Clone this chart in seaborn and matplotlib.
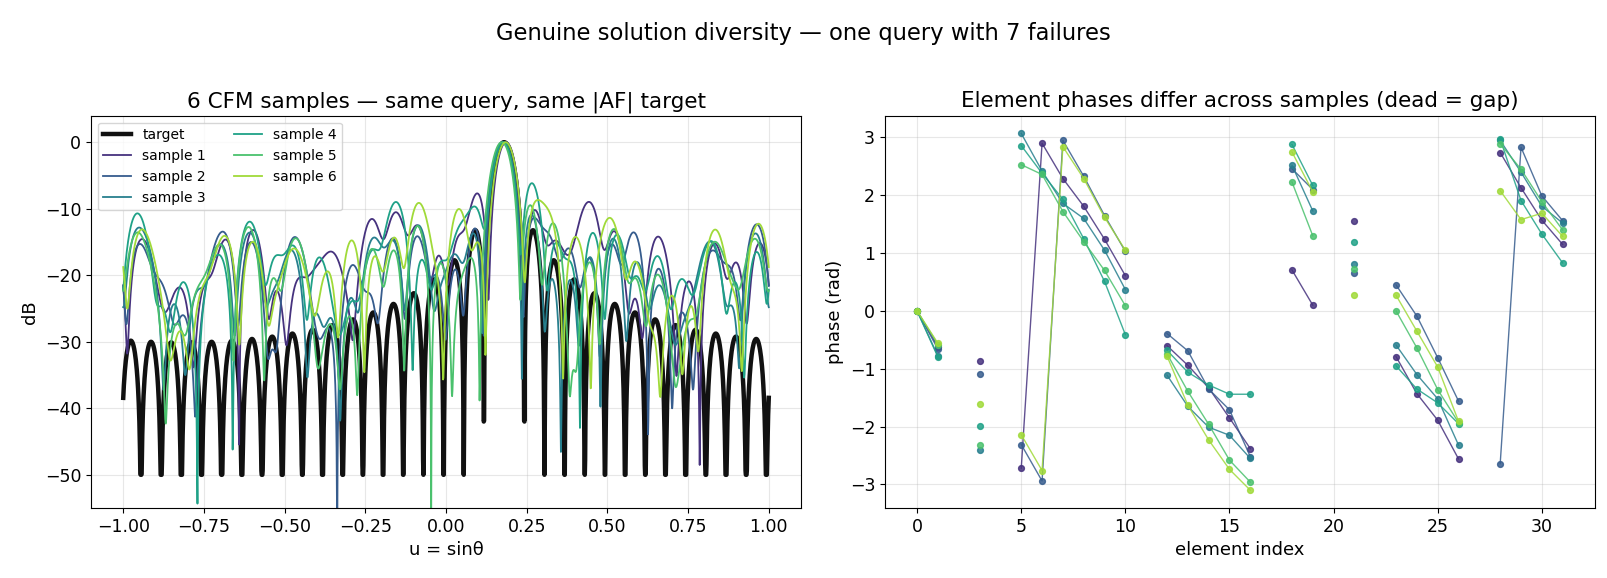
import matplotlib
matplotlib.use("Agg")
import matplotlib.pyplot as plt
import numpy as np
import seaborn as sns

nan = np.nan

# 32-element half-wavelength array, 7 dead elements, beam steered to u0
n_elem = 32
steer_u = 0.18
dead_elements = [2, 4, 11, 17, 20, 22, 27]
target_amp = [1.0] * n_elem

# element phases (rad) read per sample, nan = dead element
phase_s1 = [0.00, -0.62, nan, -0.86, nan, -2.72, 2.90, 2.29, 1.81, 1.24, 0.61, nan,
            -0.60, -0.94, -1.33, -1.85, -2.38, nan, 0.71, 0.10, nan, 1.56, nan,
            -0.79, -1.43, -1.89, -2.56, nan, 2.74, 2.13, 1.57, 1.15]
phase_s2 = [0.00, -0.66, nan, -1.09, nan, -2.31, -2.94, 2.95, 2.33, 1.65, 1.03, nan,
            -0.39, -0.69, -1.35, -1.71, -2.52, nan, 2.46, 2.10, nan, 0.65, nan,
            0.45, -0.09, -0.81, -1.56, nan, -2.64, 2.83, 1.99, 1.56]
phase_s3 = [0.00, -0.78, nan, -2.41, nan, 3.07, 2.42, 1.86, 1.60, 1.05, 0.37, nan,
            -1.11, -1.65, -2.01, -2.15, -2.55, nan, 2.52, 1.73, nan, 0.82, nan,
            -0.59, -1.10, -1.52, -2.32, nan, 2.95, 2.40, 1.81, 1.52]
phase_s4 = [0.00, -0.80, nan, -1.99, nan, 2.86, 2.38, 1.93, 1.25, 0.51, -0.41, nan,
            -0.68, -1.06, -1.28, -1.44, -1.44, nan, 2.88, 2.17, nan, 1.20, nan,
            -0.95, -1.35, -1.59, -1.95, nan, 2.97, 1.91, 1.33, 0.83]
phase_s5 = [0.00, -0.58, nan, -2.32, nan, 2.53, 2.36, 1.72, 1.20, 0.70, 0.09, nan,
            -0.74, -1.39, -1.96, -2.58, -2.96, nan, 2.23, 1.30, nan, 0.73, nan,
            0.00, -0.64, -1.36, -1.93, nan, 2.89, 2.45, 1.89, 1.40]
phase_s6 = [0.00, -0.56, nan, -1.61, nan, -2.14, -2.76, 2.84, 2.29, 1.62, 1.05, nan,
            -0.78, -1.63, -2.23, -2.74, -3.10, nan, 2.75, 2.06, nan, 0.27, nan,
            0.27, -0.35, -0.97, -1.91, nan, 2.08, 1.58, 1.69, 1.29]

sample_phases = [phase_s1, phase_s2, phase_s3, phase_s4, phase_s5, phase_s6]
sample_labels = ["sample 1", "sample 2", "sample 3", "sample 4", "sample 5", "sample 6"]

u = np.linspace(-1, 1, 2001)
idx = np.arange(n_elem)


def af_db(amp, phase, floor):
    w = np.asarray(amp) * np.exp(1j * np.asarray(phase))
    af = np.exp(1j * np.pi * np.outer(u, idx)) @ w
    mag = np.abs(af) / np.abs(af).max()
    return np.maximum(20 * np.log10(mag + 1e-12), floor)


colors = sns.color_palette("viridis", 6)

fig, (ax1, ax2) = plt.subplots(1, 2, figsize=(16.07, 5.78), dpi=100)
fig.subplots_adjust(left=0.0566, right=0.9925, top=0.80, bottom=0.121, wspace=0.118)

# left: |AF| patterns
target_db = af_db(target_amp, -np.pi * idx * steer_u, -50)
sns.lineplot(x=u, y=target_db, ax=ax1, color="#111111", lw=3.2, label="target",
             estimator=None, sort=False)
for ph, lab, c in zip(sample_phases, sample_labels, colors):
    ph = np.asarray(ph)
    amp = np.where(np.isnan(ph), 0.0, 1.0)
    db = af_db(amp, np.nan_to_num(ph), -80)
    sns.lineplot(x=u, y=db, ax=ax1, color=c, lw=1.3, label=lab,
                 estimator=None, sort=False)
ax1.set_ylim(-55, 4)
ax1.set_xlim(-1.1, 1.1)
ax1.set_xlabel("u = sinθ", fontsize=13)
ax1.set_ylabel("dB", fontsize=13)
ax1.set_title("6 CFM samples — same query, same |AF| target", fontsize=15.5)
ax1.grid(alpha=0.3)
ax1.legend(loc="upper left", ncol=2, fontsize=10)
ax1.tick_params(labelsize=12.5)

# right: element phases
for ph, lab, c in zip(sample_phases, sample_labels, colors):
    ax2.plot(idx, ph, "o-", color=c, ms=4.2, lw=1, alpha=0.85)
ax2.set_xlabel("element index", fontsize=13)
ax2.set_ylabel("phase (rad)", fontsize=13)
ax2.set_title("Element phases differ across samples (dead = gap)", fontsize=15.5)
ax2.grid(alpha=0.3)
ax2.tick_params(labelsize=12.5)

fig.suptitle("Genuine solution diversity — one query with 7 failures", fontsize=16.3, y=0.962)
fig.savefig("out.png", dpi=100)
